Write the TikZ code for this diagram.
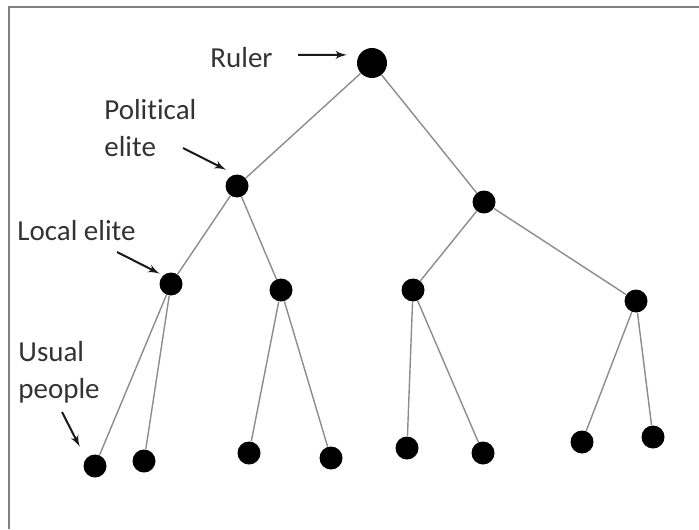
\documentclass[tikz,border=0pt]{standalone}
\usepackage{fontspec}
\setmainfont{Carlito}[Ligatures={NoCommon,NoRare}]
\usetikzlibrary{arrows}
\tikzstyle{dot}=[circle, fill=black, inner sep=0pt, minimum size=11.5pt]
\tikzstyle{bigdot}=[dot, minimum size=15pt]
\tikzstyle{edge}=[draw, black!45, line width=0.7pt]
\tikzstyle{pointer}=[draw, -latex', black!90, line width=1pt]
\tikzstyle{lbl}=[inner sep=0pt, text=black!80, font=\fontsize{14.5}{18.5}\selectfont]

\begin{document}
\begin{tikzpicture}[x=0.5pt, y=-0.5pt]
		\useasboundingbox (0,0) rectangle (699,529);
		\draw[black!50, line width=1pt] (9,529) -- (9,7) -- (699,7);
		% levels of the hierarchy
		\node[bigdot] (ruler) at (372,63) {};
		\node[dot] (pol1) at (237,186) {};
		\node[dot] (pol2) at (484,202) {};
		\node[dot] (loc1) at (171,284) {};
		\node[dot] (loc2) at (281,290) {};
		\node[dot] (loc3) at (413,290) {};
		\node[dot] (loc4) at (636,301) {};
		\node[dot] (ppl1) at (95,466) {};
		\node[dot] (ppl2) at (144,461) {};
		\node[dot] (ppl3) at (249,453) {};
		\node[dot] (ppl4) at (331,458) {};
		\node[dot] (ppl5) at (407,448) {};
		\node[dot] (ppl6) at (483,453) {};
		\node[dot] (ppl7) at (582,442) {};
		\node[dot] (ppl8) at (653,437) {};
		\draw[edge] (ruler) -- (pol1);
		\draw[edge] (ruler) -- (pol2);
		\draw[edge] (pol1) -- (loc1);
		\draw[edge] (pol1) -- (loc2);
		\draw[edge] (pol2) -- (loc3);
		\draw[edge] (pol2) -- (loc4);
		\draw[edge] (loc1) -- (ppl1);
		\draw[edge] (loc1) -- (ppl2);
		\draw[edge] (loc2) -- (ppl3);
		\draw[edge] (loc2) -- (ppl4);
		\draw[edge] (loc3) -- (ppl5);
		\draw[edge] (loc3) -- (ppl6);
		\draw[edge] (loc4) -- (ppl7);
		\draw[edge] (loc4) -- (ppl8);
		% labels
		\node[lbl, anchor=base west] (rulerlbl) at (210,68) {Ruler};
		\node[lbl, anchor=north west, align=left] (pollbl) at (104,99) {Political\\elite};
		\node[lbl, anchor=base west] (loclbl) at (17,240) {Local elite};
		\node[lbl, anchor=north west, align=left] (ppllbl) at (18,341) {Usual\\people};
		\coordinate (rulertail) at (298,55);
		\coordinate (poltail) at (183,148);
		\coordinate (loctail) at (117,252);
		\coordinate (ppltail) at (62,412);
		\draw[pointer, shorten >=6pt] (rulertail) -- (ruler.148);
		\draw[pointer, shorten >=5pt] (poltail) -- (pol1.100);
		\draw[pointer, shorten >=1.8pt] (loctail) -- (loc1.133);
		\draw[pointer, shorten >=6.6pt] (ppltail) -- (ppl1.141);
	\end{tikzpicture}
\end{document}
